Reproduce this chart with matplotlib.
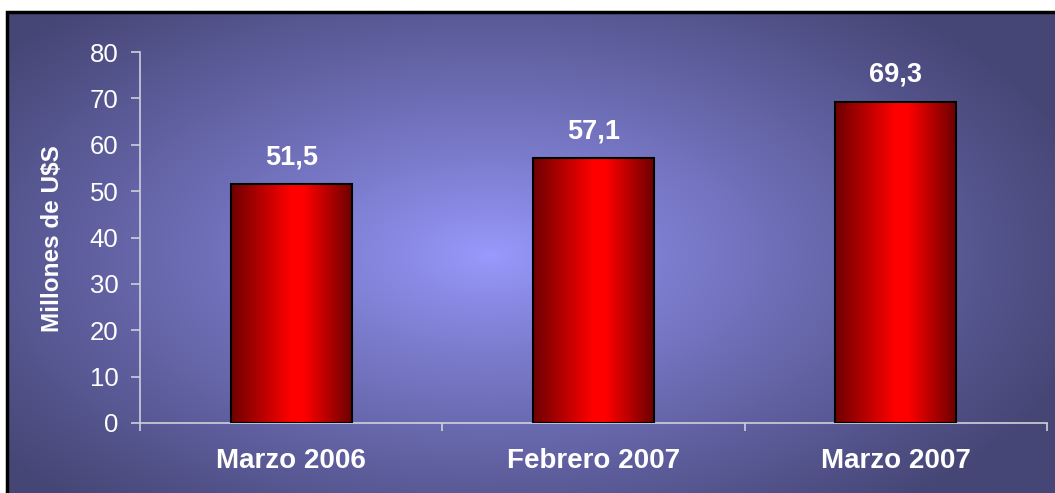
import numpy as np
import matplotlib
matplotlib.use("Agg")
import matplotlib.pyplot as plt
from matplotlib.colors import LinearSegmentedColormap

categories = ["Marzo 2006", "Febrero 2007", "Marzo 2007"]
values = [51.5, 57.1, 69.3]
value_labels = ["51,5", "57,1", "69,3"]
yticks = [0, 10, 20, 30, 40, 50, 60, 70, 80]
ylabel = "Millones de U$S"

W, H = 1055, 493
fig = plt.figure(figsize=(W / 100, H / 100), dpi=100)
fig.patch.set_facecolor("white")

# background radial gradient panel (extends past right/bottom edges)
bx0, by0, bx1, by1 = 7, 12, W + 10, H + 10
bg = fig.add_axes([bx0 / W, 1 - by1 / H, (bx1 - bx0) / W, (by1 - by0) / H])
bg.set_axis_off()
nx, ny = 600, 300
xs = np.linspace(bx0, bx1, nx)
ys = np.linspace(by0, by1, ny)
X, Y = np.meshgrid(xs, ys)
cx, cy = 490, 255
t = np.sqrt(((X - cx) / 620) ** 2 + ((Y - cy) / 330) ** 2)
t = np.clip(t, 0, 1) ** 0.85
c0 = np.array([154, 154, 255]) / 255
c1 = np.array([70, 70, 118]) / 255
img = c0[None, None, :] * (1 - t[..., None]) + c1[None, None, :] * t[..., None]
bg.imshow(img, extent=[0, 1, 0, 1], aspect="auto", origin="upper")
bg.set_xlim(0, 1)
bg.set_ylim(0, 1)
bg.add_patch(plt.Rectangle((0, 0), 1, 1, transform=bg.transAxes, fill=False,
                           edgecolor="black", linewidth=2.5, clip_on=False))

ax = fig.add_axes([140 / W, 1 - 423 / H, (1047 - 140) / W, (423 - 52) / H])
ax.patch.set_alpha(0)
ax.set_xlim(0, 3)
ax.set_ylim(0, 80)

pos = np.arange(len(categories)) + 0.5
bw = 0.4
bars = ax.bar(pos, values, width=bw, color="none", edgecolor="black",
              linewidth=1.5, zorder=3)

cmap = LinearSegmentedColormap.from_list(
    "redgrad", [(0.0, "#6e0000"), (0.5, "#ff0000"), (0.6, "#ff0000"), (1.0, "#6e0000")])
grad = np.linspace(0, 1, 256)[None, :]
for b in bars:
    x0 = b.get_x()
    ax.imshow(grad, cmap=cmap, extent=[x0, x0 + b.get_width(), 0, b.get_height()],
              aspect="auto", zorder=2)
ax.set_xlim(0, 3)
ax.set_ylim(0, 80)

for p, v, lab in zip(pos, values, value_labels):
    ax.text(p, v + 4.3, lab, ha="center", va="baseline", color="white",
            fontsize=19.5, fontweight="bold", family="Liberation Sans")

for s in ["top", "right"]:
    ax.spines[s].set_visible(False)
for s in ["left", "bottom"]:
    ax.spines[s].set_color("#d0d0dc")
    ax.spines[s].set_linewidth(1.2)

ax.set_yticks(yticks)
ax.set_yticklabels([str(v) for v in yticks], color="white", fontsize=18.5,
                   family="Liberation Sans")
ax.tick_params(axis="y", colors="#d0d0dc", length=6.5, width=1.2, labelcolor="white", pad=9)

ax.set_xticks([0, 1, 2, 3])
ax.set_xticklabels([])
ax.tick_params(axis="x", colors="#d0d0dc", length=6, width=1.2)
for p, c in zip(pos, categories):
    ax.text(p, -5.4, c, ha="center", va="top", color="white", fontsize=20,
            fontweight="bold", family="Liberation Sans")

fig.text(53 / W, 1 - 239 / H, ylabel, rotation=90, ha="center", va="center",
         color="white", fontsize=17.5, fontweight="bold", family="Liberation Sans")

fig.savefig("out.png", dpi=100)
